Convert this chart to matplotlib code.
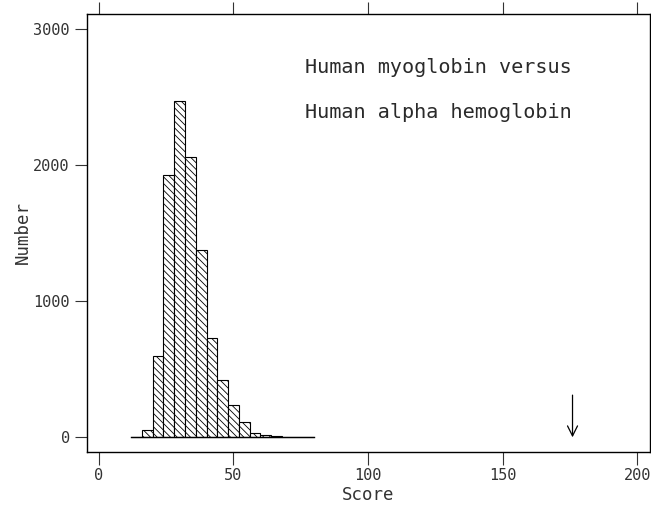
import numpy as np
import matplotlib
matplotlib.use("Agg")
from matplotlib import pyplot as plt

# histogram of scores, bin width 4
bin_edges = [12, 16, 20, 24, 28, 32, 36, 40, 44, 48, 52, 56, 60, 64, 68, 72, 76, 80]
counts = [0, 50, 601, 1930, 2469, 2060, 1374, 729, 423, 239, 109, 31, 16, 10, 3, 1, 0]
real_score = 176
title_lines = ["Human myoglobin versus", "Human alpha hemoglobin"]
x_ticks = [0, 50, 100, 150, 200]
y_ticks = [0, 1000, 2000, 3000]

plt.rcParams['hatch.linewidth'] = 0.6
mono = "DejaVu Sans Mono"

fig = plt.figure(figsize=(6.51, 5.08), dpi=100)
ax = fig.add_axes([0.1329, 0.1108, 0.8656, 0.8611])

lefts = np.array(bin_edges[:-1])
widths = np.diff(bin_edges)
ax.bar(lefts, counts, width=widths, align='edge', facecolor='white',
       edgecolor='black', linewidth=0.8, hatch='\\\\\\\\\\')
# baseline under the histogram
ax.plot([bin_edges[0], bin_edges[-1]], [0, 0], color='black', lw=1.0)

# arrow marking the real alignment score
ax.annotate("", xy=(real_score, 0), xytext=(real_score, 310),
            arrowprops=dict(arrowstyle='->', color='black', lw=0.9,
                            mutation_scale=18, shrinkA=0, shrinkB=0))

ax.text(76.6, 2717, title_lines[0], family=mono, fontsize=14.5, va='center', ha='left', color='#2a2a2a')
ax.text(76.6, 2386, title_lines[1], family=mono, fontsize=14.5, va='center', ha='left', color='#2a2a2a')

ax.set_xlim(-4.6, 204.8)
ax.set_ylim(-106, 3110)
ax.set_xticks(x_ticks)
ax.set_yticks(y_ticks)
ax.tick_params(axis='both', direction='out', length=9, width=0.8, color='#333333',
               labelsize=11, labelcolor='#333333')
ax.tick_params(axis='x', top=True, pad=3)
ax.tick_params(axis='y', pad=3)
for lab in ax.get_xticklabels() + ax.get_yticklabels():
    lab.set_family(mono)

ax.set_xlabel("Score", family=mono, fontsize=12.5, color='#333333', labelpad=2)
ax.set_ylabel("Number", family=mono, fontsize=12.5, color='#333333', labelpad=1)
for s in ax.spines.values():
    s.set_linewidth(1.0)

fig.savefig("out.png", dpi=100)
